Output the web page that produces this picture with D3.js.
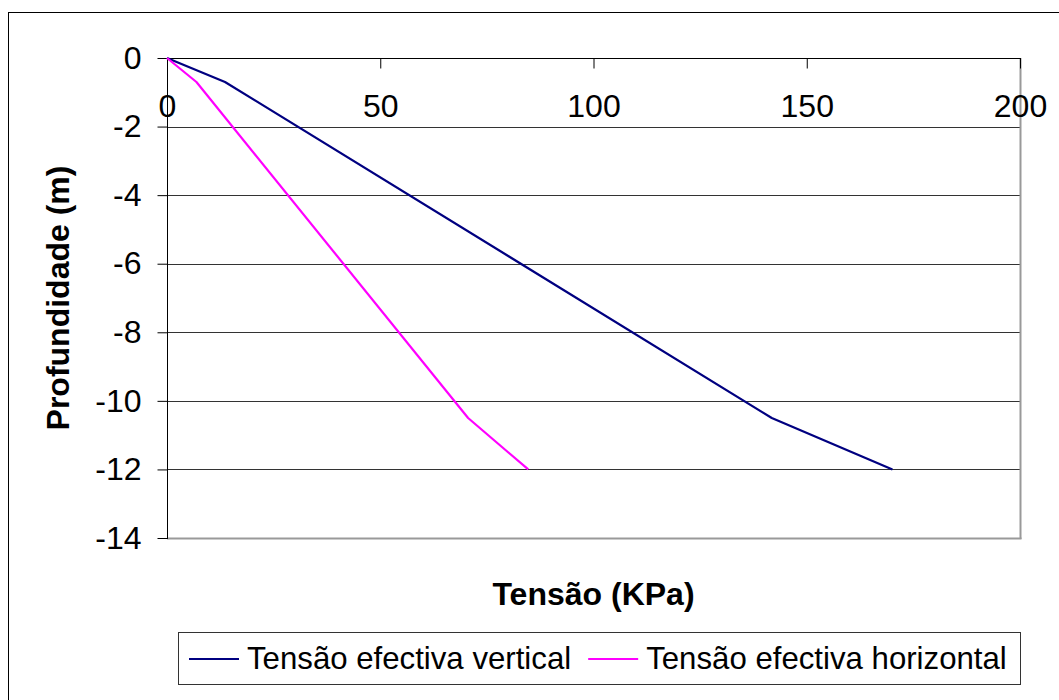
<!DOCTYPE html>
<html>
<head>
<meta charset="utf-8">
<script src="https://cdn.jsdelivr.net/npm/d3@7"></script>
<style>
  html, body { margin: 0; padding: 0; background: #fff; }
  svg { display: block; font-family: Arial, "Liberation Sans", sans-serif; }
</style>
</head>
<body>
<svg id="chart" width="1059" height="700"></svg>
<script>
// Depth profile (m) and effective stresses (kPa)
const depths = [0, -0.7, -10.5, -12];
const verticalStress = [0, 13.6, 141.8, 170.1];
const horizontalStress = [0, 6.9, 70.6, 84.7];

const seriesNames = ["Tensão efectiva vertical", "Tensão efectiva horizontal"];
const seriesColors = ["#000080", "#ff00ff"];

const xTicks = [0, 50, 100, 150, 200];
const yTicks = [0, -2, -4, -6, -8, -10, -12, -14];

const svg = d3.select("#chart");

// Outer chart frame
svg.append("rect")
  .attr("x", 8.5).attr("y", 12.5)
  .attr("width", 1100).attr("height", 800)
  .attr("fill", "none").attr("stroke", "#000").attr("stroke-width", 1);

const plot = { left: 167, right: 1020, top: 58, bottom: 538 };

const x = d3.scaleLinear().domain([0, 200]).range([plot.left, plot.right]);
const y = d3.scaleLinear().domain([0, -14]).range([plot.top, plot.bottom]);

// Horizontal gridlines
svg.append("g")
  .selectAll("line")
  .data(yTicks.filter(d => d !== -14))
  .join("line")
  .attr("x1", plot.left).attr("x2", plot.right)
  .attr("y1", d => Math.round(y(d)) + 0.5).attr("y2", d => Math.round(y(d)) + 0.5)
  .attr("stroke", "#333").attr("stroke-width", 1);

// Plot area right/bottom edges
svg.append("line")
  .attr("x1", plot.right + 0.5).attr("x2", plot.right + 0.5)
  .attr("y1", plot.top).attr("y2", plot.bottom + 1)
  .attr("stroke", "#999").attr("stroke-width", 2);
svg.append("line")
  .attr("x1", plot.left).attr("x2", plot.right + 1.5)
  .attr("y1", plot.bottom + 0.5).attr("y2", plot.bottom + 0.5)
  .attr("stroke", "#999").attr("stroke-width", 2);

// Y axis (left)
const yAxis = svg.append("g")
  .attr("transform", `translate(${plot.left + 0.5},0)`)
  .call(d3.axisLeft(y).tickValues(yTicks).tickSize(10).tickPadding(16).tickFormat(d3.format("d")));
yAxis.select(".domain").attr("stroke", "#000").attr("d", `M0,${plot.top}V${plot.bottom + 1}`);
yAxis.selectAll(".tick line").attr("stroke", "#000");
yAxis.selectAll(".tick text")
  .attr("font-size", 32).attr("fill", "#000")
  .attr("font-family", "Arial, 'Liberation Sans', sans-serif")
  .text(d => d === 0 ? "0" : String(d).replace("\u2212", "-"));

// X axis along the zero-depth line, ticks pointing inward, labels beneath
const xAxis = svg.append("g")
  .attr("transform", `translate(0,${plot.top + 0.5})`)
  .call(d3.axisBottom(x).tickValues(xTicks).tickSize(10).tickPadding(26).tickFormat(d3.format("d")));
xAxis.select(".domain").attr("stroke", "#000").attr("d", `M${plot.left},0H${plot.right + 1}`);
xAxis.selectAll(".tick line").attr("stroke", "#000");
xAxis.selectAll(".tick text")
  .attr("font-size", 32).attr("fill", "#000")
  .attr("font-family", "Arial, 'Liberation Sans', sans-serif");

// Series lines
const line = d3.line().x(d => x(d[0])).y(d => y(d[1]));
const series = [verticalStress, horizontalStress];
series.forEach((vals, i) => {
  svg.append("path")
    .datum(vals.map((v, j) => [v, depths[j]]))
    .attr("d", line)
    .attr("fill", "none")
    .attr("stroke", seriesColors[i])
    .attr("stroke-width", 2.2)
    .attr("stroke-linejoin", "round");
});

// Axis titles
svg.append("text")
  .attr("x", (plot.left + plot.right) / 2).attr("y", 605)
  .attr("text-anchor", "middle")
  .attr("font-size", 32).attr("font-weight", "bold")
  .text("Tensão (KPa)");

svg.append("text")
  .attr("transform", `translate(69,${(plot.top + plot.bottom) / 2}) rotate(-90)`)
  .attr("text-anchor", "middle")
  .attr("font-size", 32).attr("font-weight", "bold")
  .text("Profundidade (m)");

// Legend
const legend = svg.append("g");
legend.append("rect")
  .attr("x", 178.5).attr("y", 632.5)
  .attr("width", 842).attr("height", 52)
  .attr("fill", "#fff").attr("stroke", "#333").attr("stroke-width", 1);

let lx = 189;
seriesNames.forEach((name, i) => {
  legend.append("line")
    .attr("x1", lx).attr("x2", lx + 50)
    .attr("y1", 659).attr("y2", 659)
    .attr("stroke", seriesColors[i]).attr("stroke-width", 2);
  const t = legend.append("text")
    .attr("x", lx + 58).attr("y", 669)
    .attr("font-size", 31.2)
    .text(name);
  lx = lx + 58 + t.node().getComputedTextLength() + 17;
});
</script>
</body>
</html>
